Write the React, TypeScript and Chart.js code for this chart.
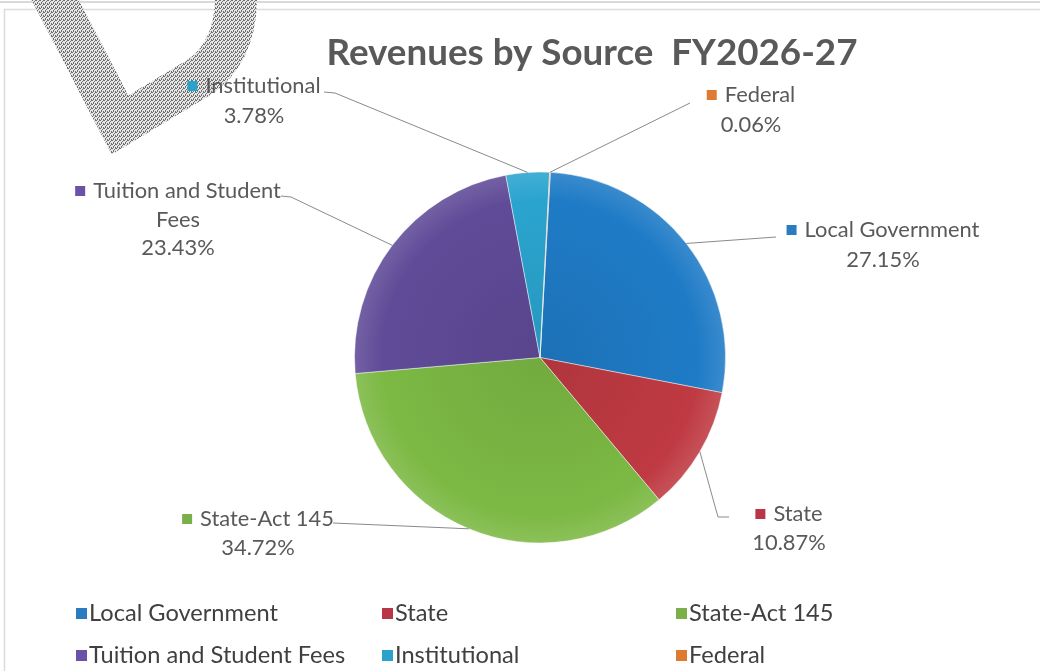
import React, { useEffect, useRef } from "react";
import { Chart, registerables } from "chart.js";

Chart.register(...registerables);

const categories = ["Local Government", "State", "State-Act 145", "Tuition and Student Fees", "Institutional", "Federal"];
const shares = [27.15, 10.87, 34.72, 23.43, 3.78, 0.06];
const percentLabels = ["27.15%", "10.87%", "34.72%", "23.43%", "3.78%", "0.06%"];
const titleText = "Revenues by Source  FY2026-27";

const sliceColors = ["#1f7bc6", "#bf3a42", "#7cb944", "#604b98", "#2aa4cf", "#e27b2c"];
const markerColors = ["#2a7bbf", "#b83646", "#79b04a", "#6a52a6", "#2aa2cc", "#df7b30"];

// label layout: first-line text split, block centre x, line centre ys, leader points from label to slice
const labelLayout = [
  { lines: ["Local Government", "27.15%"], cx: 883, ys: [230, 260], path: [[776, 237]] },
  { lines: ["State", "10.87%"], cx: 789, ys: [514, 543], path: [[729, 517], [718, 517]] },
  { lines: ["State-Act 145", "34.72%"], cx: 258, ys: [519, 548], path: [[333, 523]] },
  { lines: ["Tuition and Student", "Fees", "23.43%"], cx: 178, ys: [191, 220, 248], path: [[281, 196], [291, 197]] },
  { lines: ["Institutional", "3.78%"], cx: 254, ys: [86, 116], path: [[324, 92], [335, 93]] },
  { lines: ["Federal", "0.06%"], cx: 751, ys: [95, 125], path: [[690, 103]] },
];

const legendCols = [76, 382, 676];
const legendRows = [613, 655];

function fitSize(ctx: CanvasRenderingContext2D, text: string, width: number, weight: string, family: string) {
  ctx.font = `${weight} 100px ${family}`;
  const w = ctx.measureText(text).width;
  return (100 * width) / w;
}

function shade(hex: string, f: number) {
  const n = parseInt(hex.slice(1), 16);
  let r = (n >> 16) & 255, g = (n >> 8) & 255, b = n & 255;
  const t = f < 0 ? 0 : 255;
  const p = Math.abs(f);
  r = Math.round((t - r) * p + r);
  g = Math.round((t - g) * p + g);
  b = Math.round((t - b) * p + b);
  return `rgb(${r},${g},${b})`;
}

function ditherPattern(ctx: CanvasRenderingContext2D) {
  const c = document.createElement("canvas");
  c.width = 4;
  c.height = 4;
  const p = c.getContext("2d")!;
  p.fillStyle = "#e6e6e6";
  p.fillRect(0, 0, 4, 4);
  p.fillStyle = "#6f6f6f";
  [[0, 0], [2, 1], [1, 2], [3, 3], [3, 0], [1, 3]].forEach(([x, y]) => p.fillRect(x, y, 1, 1));
  return ctx.createPattern(c, "repeat")!;
}

const FAMILY = "Lato, 'Open Sans', sans-serif";

const decorPlugin = {
  id: "decor",
  beforeDraw(chart: any) {
    const ctx = chart.ctx as CanvasRenderingContext2D;
    ctx.save();
    ctx.fillStyle = "#ffffff";
    ctx.fillRect(0, 0, chart.width, chart.height);
    // frame lines
    ctx.strokeStyle = "#d9d9d9";
    ctx.lineWidth = 2;
    ctx.beginPath();
    ctx.moveTo(0, 2);
    ctx.lineTo(chart.width, 2);
    ctx.stroke();
    ctx.strokeStyle = "#dcdcdc";
    ctx.lineWidth = 1.5;
    ctx.beginPath();
    ctx.moveTo(4.5, chart.height);
    ctx.lineTo(4.5, 9.5);
    ctx.lineTo(chart.width, 9.5);
    ctx.stroke();
    // watermark fragment
    ctx.strokeStyle = ditherPattern(ctx);
    ctx.lineWidth = 42;
    ctx.lineJoin = "miter";
    ctx.beginPath();
    ctx.moveTo(50, -10);
    ctx.lineTo(120, 125);
    ctx.lineTo(198, 78);
    ctx.quadraticCurveTo(238, 52, 236, -10);
    ctx.stroke();
    ctx.restore();
  },
  afterDraw(chart: any) {
    const ctx = chart.ctx as CanvasRenderingContext2D;
    ctx.save();
    // title
    const ts = fitSize(ctx, titleText, 531, "bold", FAMILY);
    ctx.font = `bold ${ts}px ${FAMILY}`;
    ctx.fillStyle = "#595959";
    ctx.textAlign = "center";
    ctx.textBaseline = "middle";
    ctx.fillText(titleText, 592, 53);

    // data labels with leader lines
    const meta = chart.getDatasetMeta(0);
    const ls = fitSize(ctx, "Local Government", 175, "normal", FAMILY);
    meta.data.forEach((arc: any, i: number) => {
      const p = arc.getProps(["x", "y", "startAngle", "endAngle", "outerRadius"], true);
      const mid = (p.startAngle + p.endAngle) / 2;
      const sx = p.x + Math.cos(mid) * p.outerRadius;
      const sy = p.y + Math.sin(mid) * p.outerRadius;
      const L = labelLayout[i];
      ctx.strokeStyle = "#8a8a8a";
      ctx.lineWidth = 1;
      ctx.beginPath();
      L.path.forEach((pt, k) => (k === 0 ? ctx.moveTo(pt[0], pt[1]) : ctx.lineTo(pt[0], pt[1])));
      ctx.lineTo(sx, sy);
      ctx.stroke();

      ctx.font = `${ls}px ${FAMILY}`;
      ctx.fillStyle = "#595959";
      ctx.textBaseline = "middle";
      const lines = L.lines.slice();
      lines[lines.length - 1] = percentLabels[i];
      lines.forEach((t, k) => {
        if (k === 0) {
          const gap = 8;
          const ms = 10;
          const tw = ctx.measureText(t).width;
          const total = ms + gap + tw;
          const x0 = L.cx - total / 2;
          ctx.fillStyle = markerColors[i];
          ctx.fillRect(x0, L.ys[k] - ms / 2, ms, ms);
          ctx.fillStyle = "#595959";
          ctx.textAlign = "left";
          ctx.fillText(t, x0 + ms + gap, L.ys[k]);
        } else {
          ctx.textAlign = "center";
          ctx.fillText(t, L.cx, L.ys[k]);
        }
      });
    });

    // legend
    const gs = fitSize(ctx, "Local Government", 189, "normal", FAMILY);
    ctx.font = `${gs}px ${FAMILY}`;
    ctx.textAlign = "left";
    ctx.textBaseline = "middle";
    categories.forEach((c, i) => {
      const x = legendCols[i % 3];
      const y = legendRows[Math.floor(i / 3)];
      ctx.fillStyle = markerColors[i];
      ctx.fillRect(x, y - 5, 11, 11);
      ctx.fillStyle = "#404040";
      ctx.fillText(c, x + 13, y);
    });
    ctx.restore();
  },
};

export default function App() {
  const ref = useRef<HTMLCanvasElement>(null);
  useEffect(() => {
    if (!ref.current) return;
    const chart = new Chart(ref.current, {
      type: "pie",
      data: {
        labels: categories,
        datasets: [
          {
            data: shares,
            backgroundColor: (c: any) => {
              const base = sliceColors[c.dataIndex];
              const area = c.chart.chartArea;
              if (!area) return base;
              const cx = (area.left + area.right) / 2;
              const cy = (area.top + area.bottom) / 2;
              const r = (area.right - area.left) / 2;
              const g = c.chart.ctx.createRadialGradient(cx, cy, 0, cx, cy, r);
              g.addColorStop(0, shade(base, -0.08));
              g.addColorStop(0.85, base);
              g.addColorStop(1, shade(base, 0.12));
              return g;
            },
            borderColor: "rgba(255,255,255,0.45)",
            borderWidth: 1,
          },
        ],
      },
      options: {
        animation: false,
        responsive: false,
        rotation: 3.2,
        layout: { padding: { left: 354, right: 314, top: 171, bottom: 127 } },
        plugins: {
          legend: { display: false },
          title: { display: false },
          tooltip: { enabled: false },
        },
      },
      plugins: [decorPlugin],
    });
    return () => chart.destroy();
  }, []);
  return (
    <div style={{ position: "fixed", left: 0, top: 0, width: 1040, height: 671 }}>
      <canvas ref={ref} width={1040} height={671} style={{ width: 1040, height: 671 }} />
    </div>
  );
}
